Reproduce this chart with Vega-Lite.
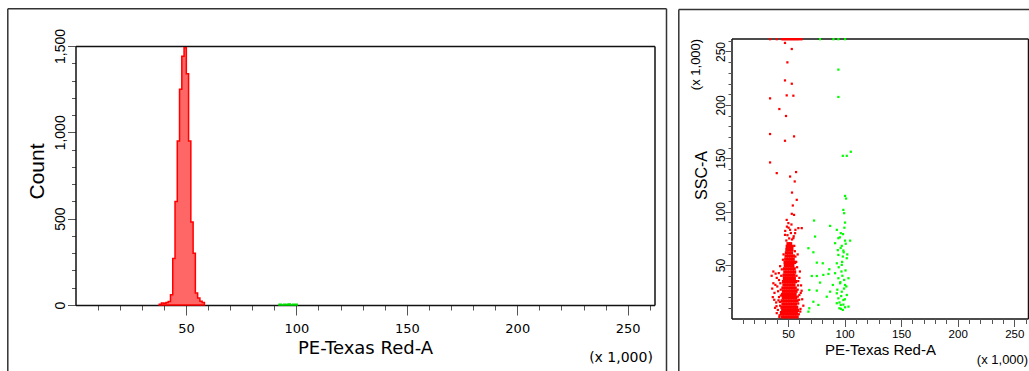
{
  "$schema": "https://vega.github.io/schema/vega-lite/v6.json",
  "width": 1029,
  "height": 371,
  "autosize": {"type": "none"},
  "padding": 0,
  "background": "white",
  "config": {
    "view": {"stroke": null},
    "axis": {"grid": false, "labelFlush": false, "labelOverlap": false, "tickColor": "#555555", "domainColor": "#111111", "labelColor": "#000000", "titleColor": "#000000", "titleFontWeight": "normal"}
  },
  "datasets": {
    "histRed": [{"x":37.89,"c":5},{"x":38.91,"c":12},{"x":39.94,"c":10},{"x":40.96,"c":15},{"x":41.98,"c":20},{"x":43.01,"c":60},{"x":44.03,"c":270},{"x":45.06,"c":600},{"x":46.08,"c":950},{"x":47.10,"c":1250},{"x":48.13,"c":1440},{"x":49.15,"c":1490},{"x":50.18,"c":1340},{"x":51.20,"c":950},{"x":52.22,"c":480},{"x":53.25,"c":300},{"x":54.27,"c":70},{"x":55.30,"c":40},{"x":56.32,"c":22},{"x":57.34,"c":15},{"x":58.37,"c":0}],
    "histGreen": [{"x":92.16,"c":4},{"x":93.18,"c":0},{"x":94.21,"c":5},{"x":95.23,"c":3},{"x":96.26,"c":6},{"x":97.28,"c":0},{"x":98.30,"c":5},{"x":99.33,"c":4},{"x":100.35,"c":0}],
    "dummy": [{"a": 0}],
    "redCore": [
      {"x":45.0,"y":1.5},{"x":47.2,"y":1.5},{"x":49.4,"y":1.5},{"x":51.6,"y":1.5},{"x":53.8,"y":1.5},{"x":56.0,"y":1.5},{"x":58.0,"y":1.5},
      {"x":44.2,"y":4.5},{"x":46.3,"y":4.5},{"x":48.5,"y":4.5},{"x":50.7,"y":4.5},{"x":52.9,"y":4.5},{"x":55.1,"y":4.5},{"x":57.3,"y":4.5},
      {"x":45.3,"y":7.5},{"x":47.5,"y":7.5},{"x":49.7,"y":7.5},{"x":51.9,"y":7.5},{"x":54.1,"y":7.5},{"x":56.3,"y":7.5},{"x":58.4,"y":7.5},
      {"x":44.6,"y":10.5},{"x":46.8,"y":10.5},{"x":49.0,"y":10.5},{"x":51.2,"y":10.5},{"x":53.4,"y":10.5},{"x":55.6,"y":10.5},{"x":57.6,"y":10.5},
      {"x":45.5,"y":13.5},{"x":47.7,"y":13.5},{"x":49.9,"y":13.5},{"x":52.1,"y":13.5},{"x":54.3,"y":13.5},{"x":56.5,"y":13.5},
      {"x":44.9,"y":16.5},{"x":47.1,"y":16.5},{"x":49.3,"y":16.5},{"x":51.5,"y":16.5},{"x":53.7,"y":16.5},{"x":55.9,"y":16.5},{"x":57.9,"y":16.5},
      {"x":45.8,"y":19.5},{"x":48.0,"y":19.5},{"x":50.2,"y":19.5},{"x":52.4,"y":19.5},{"x":54.6,"y":19.5},{"x":56.8,"y":19.5},
      {"x":45.2,"y":22.5},{"x":47.4,"y":22.5},{"x":49.6,"y":22.5},{"x":51.8,"y":22.5},{"x":54.0,"y":22.5},{"x":56.2,"y":22.5},
      {"x":46.0,"y":25.5},{"x":48.2,"y":25.5},{"x":50.4,"y":25.5},{"x":52.6,"y":25.5},{"x":54.8,"y":25.5},{"x":57.0,"y":25.5},
      {"x":45.5,"y":28.5},{"x":47.7,"y":28.5},{"x":49.9,"y":28.5},{"x":52.1,"y":28.5},{"x":54.3,"y":28.5},{"x":56.3,"y":28.5},
      {"x":46.4,"y":31.5},{"x":48.6,"y":31.5},{"x":50.8,"y":31.5},{"x":53.0,"y":31.5},{"x":55.2,"y":31.5},
      {"x":46.0,"y":34.5},{"x":48.2,"y":34.5},{"x":50.4,"y":34.5},{"x":52.6,"y":34.5},{"x":54.8,"y":34.5},{"x":56.6,"y":34.5},
      {"x":46.8,"y":37.5},{"x":49.0,"y":37.5},{"x":51.2,"y":37.5},{"x":53.4,"y":37.5},{"x":55.5,"y":37.5},
      {"x":46.5,"y":40.5},{"x":48.7,"y":40.5},{"x":50.9,"y":40.5},{"x":53.1,"y":40.5},{"x":55.2,"y":40.5},
      {"x":47.2,"y":43.5},{"x":49.4,"y":43.5},{"x":51.6,"y":43.5},{"x":53.8,"y":43.5},{"x":55.8,"y":43.5},
      {"x":46.9,"y":46.5},{"x":49.1,"y":46.5},{"x":51.3,"y":46.5},{"x":53.5,"y":46.5},{"x":55.4,"y":46.5},
      {"x":47.6,"y":49.5},{"x":49.8,"y":49.5},{"x":52.0,"y":49.5},{"x":54.2,"y":49.5},
      {"x":47.4,"y":52.5},{"x":49.6,"y":52.5},{"x":51.8,"y":52.5},{"x":54.0,"y":52.5},{"x":55.8,"y":52.5},
      {"x":48.0,"y":55.5},{"x":50.2,"y":55.5},{"x":52.4,"y":55.5},{"x":54.5,"y":55.5},
      {"x":48.3,"y":58.5},{"x":50.5,"y":58.5},{"x":52.7,"y":58.5},{"x":54.6,"y":58.5},
      {"x":48.6,"y":61.5},{"x":50.8,"y":61.5},{"x":53.0,"y":61.5},
      {"x":49.0,"y":64.5},{"x":51.2,"y":64.5},{"x":53.3,"y":64.5},
      {"x":49.3,"y":67.5},{"x":51.5,"y":67.5},{"x":53.4,"y":67.5},
      {"x":50.0,"y":70},{"x":52.2,"y":70}
    ],
    "redSparse": [
      {"x":42.5,"y":3},{"x":41,"y":8},{"x":43,"y":12},{"x":39.5,"y":15},{"x":42,"y":20},{"x":38,"y":24},{"x":43.5,"y":27},{"x":40.5,"y":30},{"x":37,"y":33},{"x":42,"y":36},{"x":44,"y":40},{"x":39,"y":42},{"x":36,"y":28},{"x":41.5,"y":17},{"x":43.8,"y":6},{"x":38.5,"y":10},{"x":40,"y":38},{"x":44.5,"y":46},{"x":43,"y":49},{"x":45.5,"y":55},{"x":46,"y":60},{"x":36.5,"y":20},{"x":40,"y":5},{"x":35.5,"y":40},{"x":37,"y":44},
      {"x":41.2,"y":25.5},{"x":43.2,"y":33},{"x":39.8,"y":11.5},{"x":42.8,"y":15.5},{"x":37.8,"y":17.5},{"x":41.8,"y":42.5},{"x":43.6,"y":21.5},{"x":38.8,"y":31.5},{"x":42.3,"y":1.5},
      {"x":59.5,"y":4},{"x":61,"y":9},{"x":59,"y":14},{"x":62.5,"y":18},{"x":60,"y":22},{"x":58.5,"y":27},{"x":61.5,"y":31},{"x":59,"y":35},{"x":57.5,"y":40},{"x":60.5,"y":44},{"x":58,"y":48},{"x":57.2,"y":53},{"x":56.5,"y":58},{"x":56,"y":63},{"x":55.5,"y":68},{"x":62,"y":26},{"x":63.5,"y":12},{"x":60,"y":38},{"x":58.5,"y":60},
      {"x":59.8,"y":17.5},{"x":58.8,"y":31},{"x":60.8,"y":6.5},{"x":58.6,"y":20.5},{"x":61.2,"y":24},
      {"x":48.5,"y":73},{"x":51,"y":75},{"x":53.5,"y":74},{"x":49.5,"y":78},{"x":52.5,"y":80},{"x":55,"y":77},{"x":47.5,"y":82},{"x":50.5,"y":85},{"x":56.5,"y":83},{"x":53,"y":88},{"x":49,"y":86},
      {"x":47.3,"y":258},{"x":53.3,"y":252.3},{"x":49.4,"y":239.8},{"x":47.3,"y":222.9},{"x":53.3,"y":219.8},{"x":48.8,"y":208.9},{"x":54.7,"y":208.6},{"x":34.1,"y":206.1},{"x":42.3,"y":196.1},{"x":48.2,"y":189.6},{"x":34.1,"y":172.7},{"x":55.3,"y":170.5},{"x":47.3,"y":166.4},{"x":34.1,"y":146.1},{"x":40.0,"y":136.1},{"x":57.1,"y":137.1},{"x":51.8,"y":132.9},{"x":55.9,"y":128.3},{"x":53.5,"y":117.9},{"x":57.7,"y":111.1},{"x":54.2,"y":105.8},{"x":53.3,"y":98},{"x":55.3,"y":97},{"x":48.8,"y":92.3},{"x":50.3,"y":89.3},{"x":59.1,"y":84.6},{"x":62.1,"y":84.6},{"x":51.8,"y":83},{"x":56.2,"y":79.9},{"x":47.3,"y":78.3},{"x":54.7,"y":75.2},
      {"x":34.1,"y":261.5},{"x":40.0,"y":261.5},{"x":44.5,"y":261.5},{"x":45.5,"y":261.5},{"x":46.5,"y":261.5},{"x":47.5,"y":261.5},{"x":48.5,"y":261.5},{"x":49.5,"y":261.5},{"x":50.5,"y":261.5},{"x":51.5,"y":261.5},{"x":52.5,"y":261.5},{"x":53.5,"y":261.5},{"x":54.5,"y":261.5},{"x":55.5,"y":261.5},{"x":56.5,"y":261.5},{"x":57.5,"y":261.5},{"x":58.5,"y":261.5},{"x":59.5,"y":261.5},{"x":61,"y":261.5},{"x":62,"y":261.5}
    ],
    "green": [
      {"x":78.3,"y":261.5},{"x":90.1,"y":261.5},{"x":94.5,"y":261.5},{"x":100.4,"y":261.5},
      {"x":94.5,"y":233},{"x":94.5,"y":207.4},{"x":98.4,"y":152.3},{"x":101.9,"y":152.3},{"x":105.5,"y":156.1},{"x":100.4,"y":114.8},{"x":101.3,"y":112.3},{"x":98.9,"y":101.7},{"x":99.6,"y":98.6},
      {"x":73.0,"y":91.7},{"x":87.2,"y":86.7},{"x":100.4,"y":89.8},{"x":93.1,"y":83},{"x":96.6,"y":79.9},{"x":73.9,"y":76.7},{"x":94.5,"y":75.2},{"x":100.4,"y":72.9},{"x":104.9,"y":72.9},{"x":91.6,"y":70.5},{"x":97.5,"y":68},{"x":68,"y":65.8},{"x":72.4,"y":62},{"x":98.9,"y":63.6},{"x":94.5,"y":59.5},{"x":98.4,"y":58},{"x":101.9,"y":56.4},{"x":75.4,"y":52.3},{"x":80.7,"y":51.7},{"x":93.1,"y":51.7},{"x":97.5,"y":50.2},{"x":86.5,"y":46.1},{"x":71.0,"y":39.8},{"x":75.4,"y":39.8},{"x":81.2,"y":40.8},{"x":85.7,"y":41.7},{"x":91.6,"y":42.4},{"x":94.5,"y":37.7},{"x":99.6,"y":36.1},{"x":103.4,"y":37.7},{"x":78.3,"y":33.6},{"x":89.6,"y":31.4},{"x":96,"y":33},{"x":100.4,"y":31.4},{"x":68.8,"y":26.7},{"x":75.4,"y":26.1},{"x":87.2,"y":25.1},{"x":93.1,"y":23.6},{"x":97.5,"y":25.1},{"x":101.9,"y":22},{"x":84.2,"y":20.4},{"x":94.5,"y":18.9},{"x":98.9,"y":17.3},{"x":72.4,"y":15.7},{"x":76.8,"y":12.7},{"x":93.1,"y":14.3},{"x":96.6,"y":12.7},{"x":103.4,"y":11.1},{"x":68.8,"y":9.6},{"x":68,"y":6.4},{"x":95.4,"y":9.6},{"x":98.4,"y":8},{"x":100.4,"y":10.5},
      {"x":95.5,"y":15},{"x":97,"y":21},{"x":99.5,"y":28},{"x":96.2,"y":34},{"x":98,"y":40},{"x":100.8,"y":45},{"x":94.8,"y":48},{"x":97.8,"y":53},{"x":99.2,"y":62},{"x":96.5,"y":66},{"x":101,"y":70},{"x":95.8,"y":76},{"x":98.6,"y":79},{"x":102.4,"y":60},{"x":93.6,"y":27},{"x":100.2,"y":18},{"x":97.2,"y":44},{"x":99.8,"y":85},{"x":94,"y":64},{"x":101.5,"y":30},{"x":96.8,"y":9},{"x":98.9,"y":13}
    ]
  },
  "resolve": {
    "scale": {"x": "independent", "y": "independent"},
    "axis": {"x": "independent", "y": "independent"}
  },
  "layer": [
    {
      "data": {"name": "dummy"},
      "mark": {"type": "point", "opacity": 0},
      "encoding": {
        "x": {"field": "a", "type": "quantitative", "scale": {"domain": [0, 1], "range": [7.3, 666], "nice": false, "zero": false},
          "axis": {"orient": "top", "offset": -8.3, "labels": false, "ticks": false, "title": null, "domainColor": "#333333", "domainWidth": 1.5}},
        "y": {"field": "a", "type": "quantitative", "scale": {"domain": [0, 1], "range": [371, 8.3], "nice": false, "zero": false},
          "axis": {"orient": "left", "offset": -7.3, "labels": false, "ticks": false, "title": null, "domainColor": "#333333", "domainWidth": 1.5}}
      }
    },
    {
      "data": {"name": "dummy"},
      "mark": {"type": "point", "opacity": 0},
      "encoding": {
        "x": {"field": "a", "type": "quantitative", "scale": {"domain": [0, 1], "range": [7.3, 666], "nice": false, "zero": false}, "axis": null},
        "y": {"field": "a", "type": "quantitative", "scale": {"domain": [0, 1], "range": [371, 8.3], "nice": false, "zero": false},
          "axis": {"orient": "right", "offset": -363, "labels": false, "ticks": false, "title": null, "domainColor": "#333333", "domainWidth": 1.5}}
      }
    },
    {
      "data": {"name": "dummy"},
      "mark": {"type": "point", "opacity": 0},
      "encoding": {
        "x": {"field": "a", "type": "quantitative", "scale": {"domain": [0, 262.144], "range": [75.5, 654.5], "nice": false, "zero": false},
          "axis": {"orient": "top", "offset": -46, "labels": false, "ticks": false, "title": null, "domainColor": "#111111", "domainWidth": 1.5}},
        "y": {"field": "a", "type": "quantitative", "scale": {"domain": [0, 1500], "range": [305, 46], "nice": false, "zero": false},
          "axis": {"orient": "left", "offset": -75.5, "values": [100,200,300,400,600,700,800,900,1100,1200,1300,1400], "tickSize": 4, "labels": false, "domain": false, "title": null}}
      }
    },
    {
      "data": {"name": "histGreen"},
      "mark": {"type": "area", "interpolate": "step-after", "fill": "#33ff33", "stroke": "#00dd00", "strokeWidth": 1.5},
      "encoding": {
        "x": {"field": "x", "type": "quantitative", "scale": {"domain": [0, 262.144], "range": [75.5, 654.5], "nice": false, "zero": false},
          "axis": {"orient": "bottom", "offset": -66, "values": [10,20,30,40,50,60,70,80,90,100,110,120,130,140,150,160,170,180,190,200,210,220,230,240,250,260], "tickSize": 5, "labels": false, "domain": false,
            "title": "(x 1,000)", "titleFont": "DejaVu Sans", "titleFontSize": 14, "titleX": 620.5, "titleY": 52, "titleAlign": "center", "titleBaseline": "middle", "titleAngle": 0}},
        "y": {"field": "c", "type": "quantitative", "stack": null, "scale": {"domain": [0, 1500], "range": [305, 46], "nice": false, "zero": false},
          "axis": {"orient": "right", "offset": -374.5, "labels": false, "ticks": false, "title": null, "domainColor": "#111111", "domainWidth": 1.5}}
      }
    },
    {
      "data": {"name": "histRed"},
      "mark": {"type": "area", "interpolate": "step-after", "fill": "#ff6666", "stroke": "#ff0000", "strokeWidth": 1.5},
      "encoding": {
        "x": {"field": "x", "type": "quantitative", "scale": {"domain": [0, 262.144], "range": [75.5, 654.5], "nice": false, "zero": false},
          "axis": {"orient": "bottom", "offset": -66, "values": [50, 100, 150, 200, 250], "tickSize": 10, "domainColor": "#111111", "domainWidth": 1.5,
            "labelFont": "DejaVu Sans", "labelFontSize": 13, "labelBaseline": "middle", "labelPadding": 13, "labelAngle": 0,
            "title": "PE-Texas Red-A", "titleFont": "DejaVu Sans", "titleFontSize": 18, "titleX": 365, "titleY": 43, "titleAlign": "center", "titleBaseline": "middle", "titleAngle": 0}},
        "y": {"field": "c", "type": "quantitative", "stack": null, "scale": {"domain": [0, 1500], "range": [305, 46], "nice": false, "zero": false},
          "axis": {"orient": "left", "offset": -75.5, "values": [0, 500, 1000, 1500], "format": ",.0f", "tickSize": 8, "domainColor": "#111111", "domainWidth": 1.5,
            "labelAngle": -90, "labelAlign": "center", "labelBaseline": "middle", "labelPadding": 7.5, "labelFont": "Liberation Sans", "labelFontSize": 14,
            "title": "Count", "titleFont": "Liberation Sans", "titleFontSize": 21, "titleAngle": -90, "titleX": -38, "titleY": 171, "titleAlign": "center", "titleBaseline": "middle"}}
      }
    },
    {
      "data": {"name": "dummy"},
      "mark": {"type": "point", "opacity": 0},
      "encoding": {
        "x": {"field": "a", "type": "quantitative", "scale": {"domain": [0, 1], "range": [678.3, 1029], "nice": false, "zero": false},
          "axis": {"orient": "top", "offset": -9, "labels": false, "ticks": false, "title": null, "domainColor": "#333333", "domainWidth": 1.5}},
        "y": {"field": "a", "type": "quantitative", "scale": {"domain": [0, 1], "range": [371, 9], "nice": false, "zero": false},
          "axis": {"orient": "left", "offset": -678.3, "labels": false, "ticks": false, "title": null, "domainColor": "#333333", "domainWidth": 1.5}}
      }
    },
    {
      "data": {"name": "redCore"},
      "mark": {"type": "square", "size": 11, "color": "#ff0000", "opacity": 1},
      "encoding": {
        "x": {"field": "x", "type": "quantitative", "scale": {"domain": [0, 262.144], "range": [731.5, 1028], "nice": false, "zero": false},
          "axis": {"orient": "bottom", "offset": -52.5, "values": [50, 100, 150, 200, 250], "tickSize": 8, "domainColor": "#111111", "domainWidth": 1.5,
            "labelFont": "Liberation Sans", "labelFontSize": 11.5, "labelBaseline": "middle", "labelPadding": 8, "labelAngle": 0,
            "title": "PE-Texas Red-A", "titleFont": "Liberation Sans", "titleFontSize": 15, "titleX": 880, "titleY": 30.5, "titleAlign": "center", "titleBaseline": "middle", "titleAngle": 0}},
        "y": {"field": "y", "type": "quantitative", "scale": {"domain": [0, 262.144], "range": [318.5, 38.5], "nice": false, "zero": false},
          "axis": {"orient": "left", "offset": -731.5, "values": [50, 100, 150, 200, 250], "tickSize": 6.5, "domainColor": "#111111", "domainWidth": 1.5,
            "labelAngle": -90, "labelAlign": "center", "labelBaseline": "middle", "labelPadding": 5, "labelFont": "Liberation Sans", "labelFontSize": 12,
            "title": "SSC-A", "titleFont": "Liberation Sans", "titleFontSize": 16, "titleAngle": -90, "titleX": -30, "titleY": 175, "titleAlign": "center", "titleBaseline": "middle"}}
      }
    },
    {
      "data": {"name": "redSparse"},
      "mark": {"type": "square", "size": 5, "color": "#ff0000", "opacity": 1},
      "encoding": {
        "x": {"field": "x", "type": "quantitative", "scale": {"domain": [0, 262.144], "range": [731.5, 1028], "nice": false, "zero": false},
          "axis": {"orient": "bottom", "offset": -52.5, "values": [10,20,30,40,50,60,70,80,90,100,110,120,130,140,150,160,170,180,190,200,210,220,230,240,250,260], "tickSize": 5, "labels": false, "domain": false,
            "title": "(x 1,000)", "titleFont": "Liberation Sans", "titleFontSize": 13, "titleX": 1002, "titleY": 40.5, "titleAlign": "center", "titleBaseline": "middle", "titleAngle": 0}},
        "y": {"field": "y", "type": "quantitative", "scale": {"domain": [0, 262.144], "range": [318.5, 38.5], "nice": false, "zero": false},
          "axis": {"orient": "left", "offset": -731.5, "values": [10,20,30,40,50,60,70,80,90,100,110,120,130,140,150,160,170,180,190,200,210,220,230,240,250,260], "tickSize": 3.5, "labels": false, "domain": false,
            "title": "(x 1,000)", "titleFont": "Liberation Sans", "titleFontSize": 13, "titleAngle": -90, "titleX": -36.5, "titleY": 64, "titleAlign": "center", "titleBaseline": "middle"}}
      }
    },
    {
      "data": {"name": "green"},
      "mark": {"type": "square", "size": 5, "color": "#00ff00", "opacity": 1},
      "encoding": {
        "x": {"field": "x", "type": "quantitative", "scale": {"domain": [0, 262.144], "range": [731.5, 1028], "nice": false, "zero": false},
          "axis": {"orient": "top", "offset": -38.5, "labels": false, "ticks": false, "title": null, "domainColor": "#111111", "domainWidth": 1.5}},
        "y": {"field": "y", "type": "quantitative", "scale": {"domain": [0, 262.144], "range": [318.5, 38.5], "nice": false, "zero": false},
          "axis": {"orient": "right", "offset": -1, "labels": false, "ticks": false, "title": null, "domainColor": "#111111", "domainWidth": 1.5}}
      }
    }
  ]
}
